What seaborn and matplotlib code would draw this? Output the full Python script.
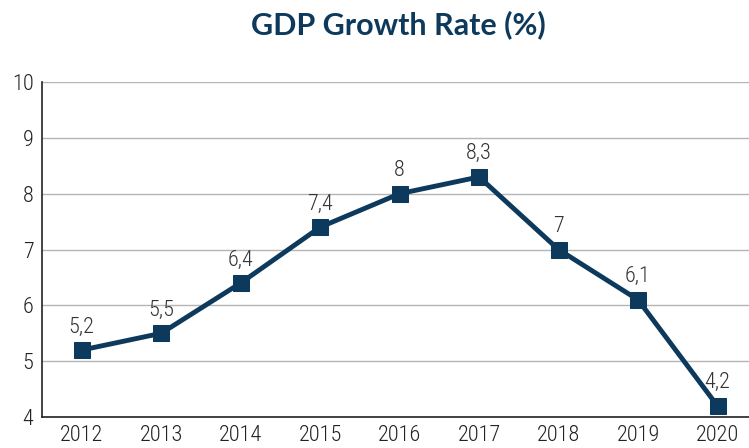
import matplotlib
matplotlib.use("Agg")
import matplotlib.pyplot as plt
import seaborn as sns
import pandas as pd
from matplotlib.ticker import FixedLocator

years = ["2012", "2013", "2014", "2015", "2016", "2017", "2018", "2019", "2020"]
growth = [5.2, 5.5, 6.4, 7.4, 8.0, 8.3, 7.0, 6.1, 4.2]
labels = ["5,2", "5,5", "6,4", "7,4", "8", "8,3", "7", "6,1", "4,2"]
y_ticks = [4, 5, 6, 7, 8, 9, 10]

navy = "#0d3a5c"

sns.set_style("white")
plt.rcParams['font.family'] = ['Roboto Condensed', 'DejaVu Sans']
plt.rcParams['font.weight'] = 300

df = pd.DataFrame({"year": years, "growth": growth})

fig = plt.figure(figsize=(7.49, 4.48), dpi=100)
ax = fig.add_axes([0.056, 0.069, 0.955, 0.748])

sns.lineplot(data=df, x="year", y="growth", ax=ax, color=navy, linewidth=3.5,
             marker="s", markersize=11, markeredgecolor=navy, markerfacecolor=navy,
             sort=False, zorder=3)

# value labels
for i, (v, lab) in enumerate(zip(growth, labels)):
    ax.annotate(lab, (i, v), xytext=(0, 9), textcoords="offset points",
                ha="center", va="bottom", fontsize=16, color="#333333")

ax.set_ylim(4, 10)
ax.set_xlim(-0.5, 8.5)
ax.set_yticks(y_ticks)
ax.yaxis.grid(True, color="#b5b5b5", linewidth=1)
ax.set_axisbelow(True)
ax.tick_params(axis="both", which="major", length=0, labelsize=16, colors="#222222", pad=6)
ax.xaxis.set_minor_locator(FixedLocator([i + 0.5 for i in range(len(years) - 1)]))
ax.tick_params(axis="x", which="minor", direction="in", length=7, width=1, color="#222222")
ax.set_xlabel("")
ax.set_ylabel("")

for s in ["top", "right"]:
    ax.spines[s].set_visible(False)
ax.spines["left"].set_color("#222222")
ax.spines["bottom"].set_color("#222222")
ax.spines["left"].set_linewidth(1.2)
ax.spines["bottom"].set_linewidth(1.2)

fig.text(0.532, 0.944, "GDP Growth Rate (%)", ha="center", va="center",
         fontsize=22, fontweight="bold", color=navy, family=["Lato", "DejaVu Sans"])

fig.savefig("out.png", dpi=100)
